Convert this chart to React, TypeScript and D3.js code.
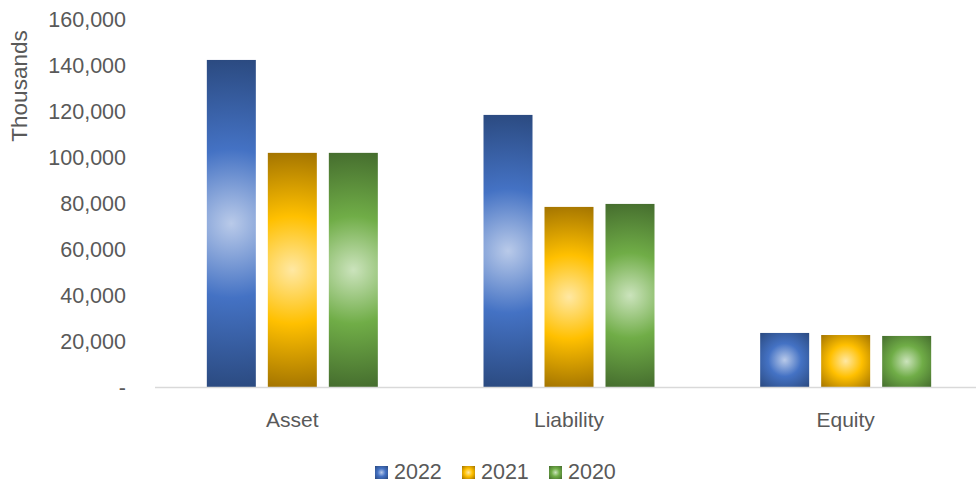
import React from "react";
import * as d3 from "d3";

const categories = ["Asset", "Liability", "Equity"];
const seriesNames = ["2022", "2021", "2020"];
const values2022 = [142200, 118300, 23500];
const values2021 = [101800, 78300, 22600];
const values2020 = [101800, 79600, 22200];
const yTicks = [0, 20000, 40000, 60000, 80000, 100000, 120000, 140000, 160000];

const W = 976;
const H = 485;
const palette = [
  { light: "#B9CAE9", base: "#4472C4", dark: "#2B4A80" },
  { light: "#FFE8A3", base: "#FFC000", dark: "#A37400" },
  { light: "#CBE3BC", base: "#70AD47", dark: "#456D2E" },
];

export default function App() {
  const series = [values2022, values2021, values2020];
  const x0 = d3.scaleBand<string>().domain(categories).range([154, 984]).paddingInner(0).paddingOuter(0);
  const y = d3.scaleLinear().domain([0, 160000]).range([387, 19]);
  const groupW = 171;
  const x1 = d3.scaleBand<string>().domain(seriesNames).range([0, groupW]).paddingInner(12 / 61).paddingOuter(0);
  const bw = x1.bandwidth();
  const fmt = d3.format(",");
  const font = "'Liberation Sans', Arial, sans-serif";

  const bars: any[] = [];
  categories.forEach((c, ci) => {
    seriesNames.forEach((s, si) => {
      const v = series[si][ci];
      const bx = (x0(c) as number) + (x0.bandwidth() - groupW) / 2 + (x1(s) as number);
      const by = y(v);
      const bh = y(0) - by;
      bars.push({ id: `g${ci}_${si}`, x: bx, y: by, w: bw, h: bh, si });
    });
  });

  const legendItems = [
    { s: seriesNames[0], x: 375 },
    { s: seriesNames[1], x: 462 },
    { s: seriesNames[2], x: 549 },
  ];

  const grad = (id: string, cx: number, cy: number, r: number, si: number) => (
    <radialGradient key={id} id={id} gradientUnits="userSpaceOnUse" cx={cx} cy={cy} r={r} fx={cx} fy={cy}>
      <stop offset="0" stopColor={palette[si].light} />
      <stop offset="0.45" stopColor={palette[si].base} />
      <stop offset="1" stopColor={palette[si].dark} />
    </radialGradient>
  );

  return (
    <div style={{ position: "absolute", left: 0, top: 0 }}>
      <svg width={W} height={H} style={{ display: "block", background: "#fff" }}>
        <defs>
          {bars.map((b) => grad(b.id, b.x + b.w / 2, b.y + b.h / 2, Math.sqrt((b.w / 2) ** 2 + (b.h / 2) ** 2), b.si))}
          {legendItems.map((l, i) => grad(`lg${i}`, l.x + 6.5, 472.5, 9, i))}
        </defs>
        {yTicks.map((t) => (
          <text key={t} x={126} y={y(t)} dy="0.36em" textAnchor="end" fontFamily={font} fontSize={21.5} fill="#595959">
            {t === 0 ? "-" : fmt(t)}
          </text>
        ))}
        <text transform={`translate(27,86) rotate(-90)`} textAnchor="middle" fontFamily={font} fontSize={22.5} fill="#595959">
          Thousands
        </text>
        {bars.map((b) => (
          <rect key={b.id} x={b.x} y={b.y} width={b.w} height={b.h} fill={`url(#${b.id})`} />
        ))}
        <line x1={155} x2={976} y1={387.5} y2={387.5} stroke="#D9D9D9" strokeWidth={1.5} />
        {categories.map((c) => (
          <text key={c} x={(x0(c) as number) + x0.bandwidth() / 2} y={427} textAnchor="middle" fontFamily={font} fontSize={21} fill="#595959">
            {c}
          </text>
        ))}
        {legendItems.map((l, i) => (
          <g key={l.s}>
            <rect x={l.x} y={466} width={13} height={13} fill={`url(#lg${i})`} />
            <text x={l.x + 19} y={479} fontFamily={font} fontSize={21.5} fill="#595959">
              {l.s}
            </text>
          </g>
        ))}
      </svg>
    </div>
  );
}
